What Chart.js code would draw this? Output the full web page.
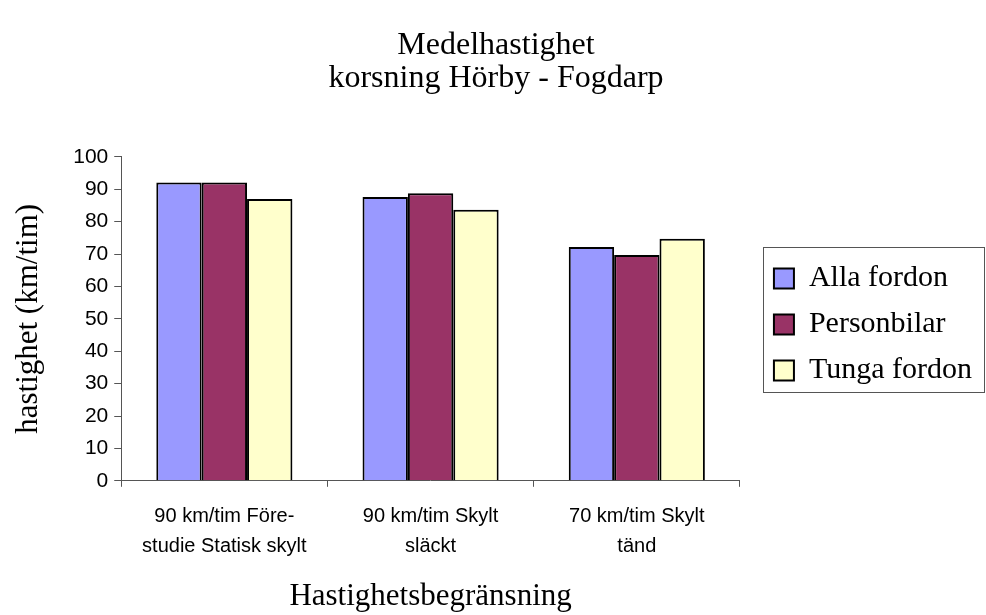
<!DOCTYPE html>
<html>
<head>
<meta charset="utf-8">
<script src="https://cdn.jsdelivr.net/npm/chart.js@4"></script>
<style>
  html, body { margin: 0; padding: 0; background: #ffffff; }
  #wrap { width: 986px; height: 615px; }
</style>
</head>
<body>
<div id="wrap"><canvas id="c" width="986" height="615"></canvas></div>
<script>
const categories = [
  ["90 km/tim Före-", "studie Statisk skylt"],
  ["90 km/tim Skylt", "släckt"],
  ["70 km/tim Skylt", "tänd"]
];
const allaFordon = [92.1, 87.6, 72.2];
const personbilar = [92.1, 88.8, 69.7];
const tungaFordon = [87.0, 83.7, 74.7];
const seriesNames = ["Alla fordon", "Personbilar", "Tunga fordon"];
const titleLines = ["Medelhastighet", "korsning Hörby - Fogdarp"];
const yTitle = "hastighet (km/tim)";
const xTitle = "Hastighetsbegränsning";

const serif = "'Liberation Serif', 'Times New Roman', serif";
const sans = "'Liberation Sans', Arial, sans-serif";

const legendBorder = {
  id: 'legendBorder',
  afterDraw(chart) {
    const lg = chart.legend;
    if (!lg || !lg.legendHitBoxes || !lg.legendHitBoxes.length) return;
    const hb = lg.legendHitBoxes;
    const top = hb[0].top - 17;
    const bottom = hb[hb.length - 1].top + hb[hb.length - 1].height + 6;
    const left = hb[0].left - 11;
    const right = chart.width - 2;
    const ctx = chart.ctx;
    ctx.save();
    ctx.strokeStyle = '#555555';
    ctx.lineWidth = 1;
    ctx.strokeRect(Math.round(left) + 0.5, Math.round(top) + 0.5, Math.round(right - left), Math.round(bottom - top));
    ctx.restore();
  }
};

new Chart(document.getElementById('c'), {
  type: 'bar',
  data: {
    labels: categories,
    datasets: [
      { label: seriesNames[0], data: allaFordon, backgroundColor: '#9999FF' },
      { label: seriesNames[1], data: personbilar, backgroundColor: '#993366' },
      { label: seriesNames[2], data: tungaFordon, backgroundColor: '#FFFFCC' }
    ]
  },
  options: {
    responsive: false,
    animation: false,
    devicePixelRatio: 1,
    datasets: {
      bar: {
        borderColor: '#000000',
        borderWidth: 2,
        categoryPercentage: 0.66,
        barPercentage: 1.0
      }
    },
    layout: { padding: { left: 10, right: 4, top: 0, bottom: 0 } },
    plugins: {
      title: {
        display: true,
        text: titleLines,
        color: '#000000',
        font: { family: serif, size: 32, weight: 'normal', lineHeight: 1.03 },
        padding: { top: 29, bottom: 62 }
      },
      legend: {
        position: 'right',
        maxWidth: 260,
        title: {
          display: true,
          text: ' ',
          font: { size: 10, lineHeight: 1.2 },
          padding: { top: 11, bottom: 11 }
        },
        labels: {
          color: '#000000',
          font: { family: serif, size: 30 },
          boxWidth: 20,
          boxHeight: 20,
          padding: 16
        }
      },
      tooltip: { enabled: false }
    },
    scales: {
      x: {
        grid: {
          display: true,
          drawOnChartArea: false,
          drawTicks: true,
          tickLength: 6,
          color: '#555555',
          offset: true
        },
        border: { display: true, color: '#555555', width: 1 },
        ticks: {
          color: '#000000',
          font: { family: sans, size: 20, lineHeight: 1.5 },
          maxRotation: 0,
          autoSkip: false,
          padding: 15
        },
        title: {
          display: true,
          text: xTitle,
          color: '#000000',
          font: { family: serif, size: 31 },
          padding: { top: 1, bottom: 0 }
        }
      },
      y: {
        min: 0,
        max: 100,
        grid: {
          display: true,
          drawOnChartArea: false,
          drawTicks: true,
          tickLength: 7,
          color: '#555555'
        },
        border: { display: true, color: '#555555', width: 1 },
        ticks: {
          stepSize: 10,
          color: '#000000',
          font: { family: sans, size: 21 },
          padding: 6
        },
        title: {
          display: true,
          text: yTitle,
          color: '#000000',
          font: { family: serif, size: 31 },
          padding: { top: 0, bottom: 20 }
        }
      },
      gap: {
        type: 'linear',
        position: 'right',
        display: true,
        grid: { display: false },
        border: { display: false },
        ticks: { display: false },
        afterFit(scale) { scale.width = 18; }
      }
    }
  },
  plugins: [legendBorder]
});
</script>
</body>
</html>
